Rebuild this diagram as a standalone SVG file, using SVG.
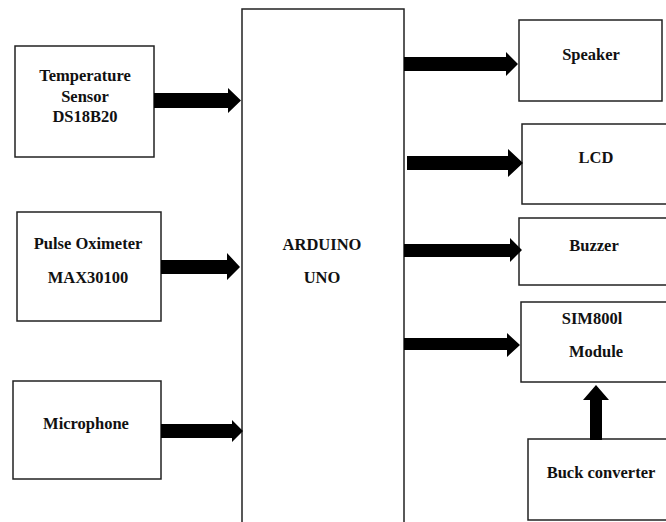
<svg xmlns="http://www.w3.org/2000/svg" width="666" height="522" viewBox="0 0 666 522">
<style>
.box{fill:#fff;stroke:#222;stroke-width:1.5}
.lbl{font-family:"Liberation Serif","Times New Roman",serif;font-weight:bold;font-size:16.5px;fill:#111;text-anchor:middle}
.arr{fill:#000}
</style>
<rect width="666" height="522" fill="#fff"/>
<g id="temp"><rect class="box" x="15" y="46" width="139" height="111"/>
<text class="lbl" x="85" y="81">Temperature</text><text class="lbl" x="85" y="102">Sensor</text><text class="lbl" x="85" y="122">DS18B20</text></g>
<g id="pulse"><rect class="box" x="17" y="212" width="144" height="109"/>
<text class="lbl" x="88" y="249">Pulse Oximeter</text><text class="lbl" x="88" y="283">MAX30100</text></g>
<g id="mic"><rect class="box" x="13" y="381" width="148" height="98"/>
<text class="lbl" x="86" y="429">Microphone</text></g>
<g id="arduino"><rect class="box" x="242" y="9" width="162" height="530"/>
<text class="lbl" x="322" y="250">ARDUINO</text><text class="lbl" x="322" y="283">UNO</text></g>
<g id="speaker"><rect class="box" x="519" y="20" width="143" height="81"/>
<text class="lbl" x="591" y="60">Speaker</text></g>
<g id="lcd"><rect class="box" x="522" y="124" width="160" height="80"/>
<text class="lbl" x="596" y="163">LCD</text></g>
<g id="buzzer"><rect class="box" x="519" y="218" width="160" height="67"/>
<text class="lbl" x="594" y="251">Buzzer</text></g>
<g id="sim"><rect class="box" x="521" y="302" width="160" height="80"/>
<text class="lbl" x="592" y="324">SIM800l</text><text class="lbl" x="596" y="357">Module</text></g>
<g id="buck"><rect class="box" x="528" y="439" width="160" height="81"/>
<text class="lbl" x="601" y="478">Buck converter</text></g>
<g id="connectors">
<polygon class="arr" points="154,93 228,93 228,88 241,100.5 228,113 228,108 154,108"/>
<polygon class="arr" points="161,260 227,260 227,253 240,267 227,280 227,274 161,274"/>
<polygon class="arr" points="161,424 232,424 232,420 243,431 232,442 232,438 161,438"/>
<polygon class="arr" points="404,57 506,57 506,52 518,64 506,76 506,71 404,71"/>
<polygon class="arr" points="407,156 508,156 508,149 523,163 508,177 508,170 407,170"/>
<polygon class="arr" points="404,244 510,244 510,238 522,250 510,262 510,257 404,257"/>
<polygon class="arr" points="404,338 507,338 507,333 520,345 507,357 507,350 404,350"/>
<polygon class="arr" points="590,440 590,400 583,400 596,385 609,400 602,400 602,440"/>
</g>
</svg>
